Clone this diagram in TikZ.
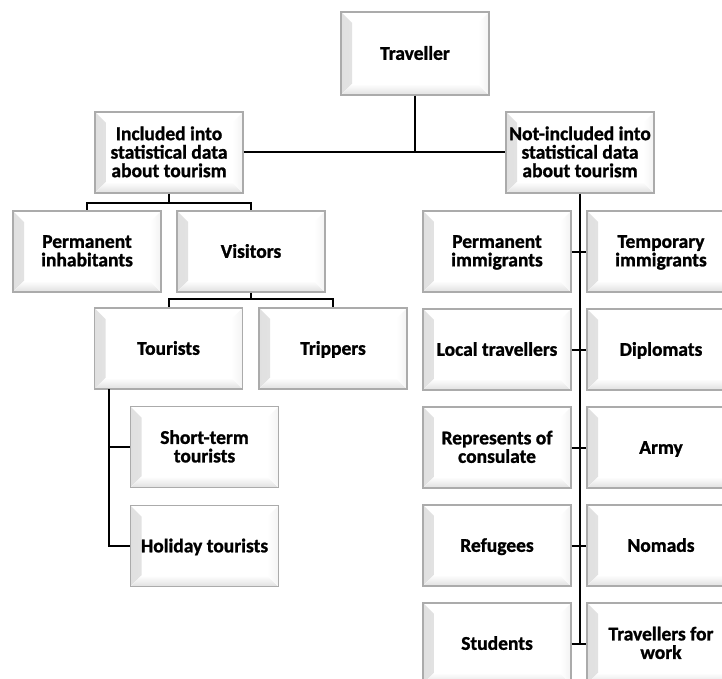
\documentclass[tikz,border=0pt]{standalone}
\usepackage{fontspec}
\setmainfont{Carlito}[BoldFeatures={FakeBold=1.2}]
\definecolor{boxgray}{HTML}{ABABAB}
\definecolor{bevgray}{HTML}{E0E0E0}
\definecolor{bevlight}{HTML}{F3F3F3}
\tikzset{
  bbox/.style={draw=boxgray, line width=1.3pt, fill=white,
    minimum width=148pt, minimum height=81pt, inner sep=0pt,
    align=center, text depth=1.4pt,
    execute at begin node={\rule{0pt}{14pt}},
    font=\fontsize{19.5}{18.5}\selectfont\bfseries,
    path picture={
      \fill[left color=bevgray, right color=white]
        (path picture bounding box.south west) -- (path picture bounding box.north west)
        -- ([shift={(11pt,-11pt)}]path picture bounding box.north west)
        -- ([shift={(11pt,11pt)}]path picture bounding box.south west) -- cycle;
      \fill[bottom color=bevgray, top color=white]
        (path picture bounding box.south west) -- (path picture bounding box.south east)
        -- ([shift={(-11pt,11pt)}]path picture bounding box.south east)
        -- ([shift={(11pt,11pt)}]path picture bounding box.south west) -- cycle;
      \fill[left color=white, right color=bevlight]
        (path picture bounding box.south east) -- (path picture bounding box.north east)
        -- ([shift={(-11pt,-11pt)}]path picture bounding box.north east)
        -- ([shift={(-11pt,11pt)}]path picture bounding box.south east) -- cycle;
    }},
  conn/.style={draw=black, line width=2pt}
}
\begin{document}
\begin{tikzpicture}[x=1pt,y=-1pt]
\useasboundingbox (0,0) rectangle (722,679);
\clip (0,0) rectangle (722,679);
\fill[white] (0,0) rectangle (722,679);
% connector bends
\coordinate (travbus) at (415,152.5);
\coordinate (incbus) at (169,203);
\coordinate (visbus) at (251,299);
\coordinate (notend) at (580,643.5);
\coordinate (tourline) at (109,389);
% nodes
\node[bbox, minimum height=83pt] (trav) at (415,53.5) {Traveller};
\node[bbox] (incl) at (169,152.5) {Included into\\statistical data\\about tourism};
\node[bbox] (notincl) at (580,152.5) {Not-included into\\statistical data\\about tourism};
\node[bbox] (perminh) at (87,251.5) {Permanent\\inhabitants};
\node[bbox] (visitors) at (251,251.5) {Visitors};
\node[bbox] (tourists) at (168.5,348.5) {Tourists};
\node[bbox] (trippers) at (333,348.5) {Trippers};
\node[bbox] (short) at (204.5,447) {Short-term\\tourists};
\node[bbox] (holiday) at (204.5,546) {Holiday tourists};
\node[bbox] (permimm) at (497,251.5) {Permanent\\immigrants};
\node[bbox] (tempimm) at (661,251.5) {Temporary\\immigrants};
\node[bbox] (local) at (497,349.5) {Local travellers};
\node[bbox] (diplo) at (661,349.5) {Diplomats};
\node[bbox] (consul) at (497,447.5) {Represents of\\consulate};
\node[bbox] (army) at (661,447.5) {Army};
\node[bbox] (refug) at (497,545.5) {Refugees};
\node[bbox] (nomads) at (661,545.5) {Nomads};
\node[bbox] (students) at (497,643.5) {Students};
\node[bbox] (work) at (661,643.5) {Travellers for\\work};
% connector lines
\draw[conn] (trav.south) -- (travbus);
\draw[conn] (incl.east) -- (notincl.west);
\draw[conn] (incl.south) -- (incbus) -| (perminh.north);
\draw[conn] (incbus) -| (visitors.north);
\draw[conn] (visitors.south) -- (visbus) -| (tourists.north);
\draw[conn] (visbus) -| (trippers.north);
\draw[conn] (tourline) |- (holiday.west);
\draw[conn] (short.west) -- (short.west -| tourline);
\draw[conn] (notincl.south) -- (notend);
\draw[conn] (permimm.east) -- (tempimm.west);
\draw[conn] (local.east) -- (diplo.west);
\draw[conn] (consul.east) -- (army.west);
\draw[conn] (refug.east) -- (nomads.west);
\draw[conn] (students.east) -- (work.west);
\end{tikzpicture}
\end{document}
